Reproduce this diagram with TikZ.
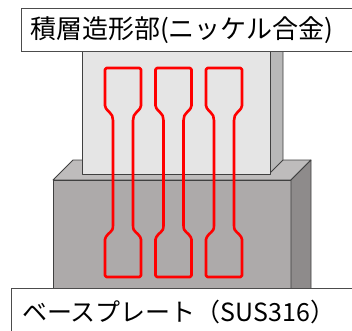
\documentclass[tikz,border=0pt]{standalone}
\usepackage{fontspec}
\newfontfamily\jpfont{Noto Sans CJK JP}
\usetikzlibrary{positioning}

\definecolor{blockfront}{RGB}{229,229,229}
\definecolor{blockside}{RGB}{184,184,184}
\definecolor{platefront}{RGB}{173,170,170}
\definecolor{platetop}{RGB}{190,188,188}
\definecolor{plateside}{RGB}{142,139,139}

\begin{document}
\begin{tikzpicture}[
x=1pt, y=-1pt,
face/.style = {draw=black!75, line width=0.8pt, line join=round},
specimen/.style = {draw=red, line width=2.6pt, line join=round,
                   rounded corners=1.5pt},
labelbox/.style = {draw=black!70, fill=white, line width=0.9pt},
labeltext/.style = {font=\jpfont\fontsize{25}{30}\selectfont,
                    anchor=west, inner sep=0pt},
                        ]
\useasboundingbox (0,0) rectangle (352,330);
\clip (0,0) rectangle (352,330);
% base plate
\filldraw[face, fill=platetop]   (53,180) -- (73,160) -- (311,160) -- (291,180) -- cycle;
\filldraw[face, fill=platefront] (53,180) rectangle (291,300);
\filldraw[face, fill=plateside]  (291,180) -- (311,160) -- (311,300) -- (291,300) -- cycle;
% built block on top
\filldraw[face, fill=blockside]  (270,40) -- (283,40) -- (283,160) -- (270,173) -- cycle;
\filldraw[face, fill=blockfront] (82,40) rectangle (270,174);
% tensile specimens
\foreach \cx in {123,173.5,224}
  \draw[specimen] ({\cx-18},107) -- ({\cx-18},68) -- ({\cx+18},68) -- ({\cx+18},107)
    -- ({\cx+15},111) .. controls ({\cx+11},114) and ({\cx+10},117) .. ({\cx+10},122)
    -- ({\cx+10},224) .. controls ({\cx+10},229) and ({\cx+11},231) .. ({\cx+14},233)
    -- ({\cx+18},238) -- ({\cx+18},277) -- ({\cx-18},277) -- ({\cx-18},238)
    -- ({\cx-14},233) .. controls ({\cx-11},231) and ({\cx-10},229) .. ({\cx-10},224)
    -- ({\cx-10},122) .. controls ({\cx-10},117) and ({\cx-11},114) .. ({\cx-15},111)
    -- cycle;
% labels
\draw[labelbox] (21,8) rectangle (360,51);
\node[labeltext, font=\jpfont\fontsize{26}{30}\selectfont] (built) at (30,30)
  {積層造形部(ニッケル合金)};
\draw[labelbox] (11,288) rectangle (360,340);
\node[labeltext] (plate) at (22,312) {ベースプレート（SUS316）};
\end{tikzpicture}
\end{document}
